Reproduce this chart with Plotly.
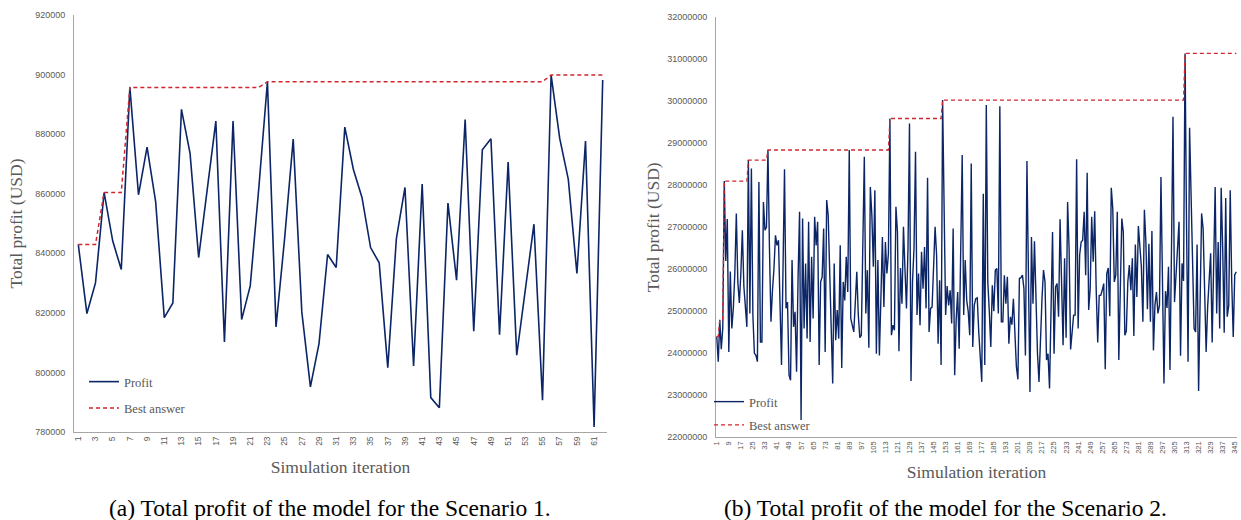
import plotly.graph_objects as go

# ---------------- Scenario 1 data ----------------
iter1 = list(range(1, 63))
profit1 = [
    842944, 819760, 830064, 860416, 844176, 834544, 895696, 859632, 875648, 857280,
    818416, 823344, 888304, 873520, 838576, 861000, 884384, 810240, 884384, 817744,
    829056, 862000, 897600, 815280, 845000, 878336, 820320, 795120, 809680, 839584,
    835216, 882368, 868144, 858736, 841936, 836784, 801616, 844960, 862096, 802176,
    863216, 791536, 788176, 856832, 830960, 884944, 813824, 874752, 878448, 812704,
    870608, 805760, 828000, 849776, 790640, 899840, 878560, 864784, 833200, 877664,
    781680, 898160,
]
best1 = [842944] * 3 + [860416] * 3 + [895696] * 16 + [897600] * 33 + [899840] * 7
xticks1 = list(range(1, 62, 2))

# ---------------- Scenario 2 data (millions USD) ----------------
profit2_m = [
    24.40, 23.80, 24.80, 24.10, 24.60, 28.10, 26.20, 27.20, 24.03, 25.95,
    24.59, 25.07, 25.90, 27.33, 25.70, 25.20, 25.90, 26.93, 25.60, 25.14,
    24.63, 28.60, 24.95, 28.40, 24.90, 24.00, 23.95, 23.80, 28.08, 24.27,
    24.27, 27.60, 26.93, 27.00, 28.84, 26.50, 24.75, 25.50, 26.02, 26.81,
    26.57, 26.69, 25.20, 23.72, 26.00, 28.38, 25.07, 25.22, 23.48, 23.36,
    26.22, 24.63, 24.99, 23.56, 25.80, 27.37, 22.41, 27.21, 24.59, 26.14,
    24.35, 27.13, 24.27, 26.30, 24.83, 27.25, 26.57, 27.13, 23.72, 25.70,
    25.82, 26.97, 24.03, 27.65, 27.29, 25.90, 24.50, 23.28, 26.14, 24.31,
    25.03, 24.35, 26.57, 23.65, 25.70, 25.26, 26.30, 25.46, 28.84, 24.83,
    24.67, 24.51, 25.20, 25.94, 24.91, 24.37, 24.43, 26.50, 28.68, 24.95,
    25.98, 24.13, 27.96, 27.29, 26.06, 27.88, 23.99, 26.22, 23.95, 25.30,
    26.77, 25.10, 26.65, 25.90, 26.38, 29.59, 24.43, 24.67, 24.55, 27.49,
    26.89, 24.05, 26.03, 25.18, 27.01, 26.00, 25.07, 26.50, 29.47, 23.34,
    25.70, 26.50, 28.80, 24.91, 25.90, 24.67, 26.42, 25.54, 26.53, 25.07,
    28.18, 24.51, 25.07, 25.10, 26.00, 27.01, 26.34, 24.23, 25.74, 23.72,
    30.03, 27.60, 24.91, 25.60, 25.14, 25.50, 24.71, 26.97, 23.48, 24.80,
    25.46, 24.11, 26.50, 28.72, 24.91, 26.22, 25.26, 25.00, 24.43, 28.52,
    24.15, 25.14, 25.30, 25.32, 24.50, 23.90, 23.32, 27.80, 23.72, 29.91,
    25.70, 25.00, 24.15, 25.62, 25.00, 25.98, 26.02, 24.95, 29.88, 24.75,
    24.75, 25.86, 25.18, 25.82, 24.23, 24.87, 24.68, 25.30, 24.40, 23.68,
    23.38, 25.78, 25.80, 25.86, 25.54, 23.95, 28.58, 25.80, 23.08, 26.77,
    25.18, 26.67, 25.00, 24.00, 23.32, 24.63, 25.30, 25.98, 25.70, 23.84,
    23.99, 23.16, 25.00, 26.89, 23.99, 25.58, 25.66, 24.87, 27.19, 25.70,
    24.19, 26.26, 24.37, 27.60, 26.49, 24.09, 24.50, 24.91, 24.91, 28.62,
    24.59, 26.34, 26.65, 26.69, 27.37, 25.86, 28.30, 25.03, 25.54, 27.25,
    26.18, 27.38, 25.50, 24.26, 25.38, 25.38, 25.50, 25.66, 23.62, 25.90,
    26.03, 24.88, 27.94, 27.45, 25.70, 25.86, 27.37, 23.84, 25.50, 27.21,
    26.89, 24.43, 24.53, 25.70, 26.10, 25.50, 26.26, 24.41, 26.59, 25.34,
    27.03, 26.50, 26.06, 24.75, 27.42, 26.65, 25.05, 26.61, 24.75, 26.91,
    24.07, 25.14, 25.46, 24.95, 25.14, 28.20, 25.50, 23.28, 25.48, 25.08,
    26.06, 23.60, 26.50, 29.63, 25.22, 25.78, 26.40, 27.13, 23.94, 26.14,
    25.72, 31.14, 27.00, 23.80, 29.37, 27.50, 25.80, 24.59, 24.51, 26.59,
    23.10, 25.30, 27.33, 26.97, 25.50, 24.03, 25.10, 25.80, 26.38, 24.26,
    26.00, 27.96, 24.95, 26.65, 24.59, 27.94, 26.49, 24.49, 27.70, 24.87,
    25.13, 27.88, 25.70, 24.39, 25.87, 25.94,
]
best2_m = ([24.40] * 2 + [24.80] * 3 + [28.10] * 16 + [28.60] * 13 + [28.84] * 81
           + [29.59] * 35 + [30.03] * 161 + [31.14] * 35)
profit2 = [v * 1e6 for v in profit2_m]
best2 = [v * 1e6 for v in best2_m]
iter2 = list(range(1, len(profit2) + 1))
xticks2 = list(range(1, 346, 8))

# ---------------- styling ----------------
W, H = 1241, 520
NAVY = "#0B2566"
RED = "#D0262E"
GREY = "#595959"
AXIS = "#A6A6A6"
SANS = "Liberation Sans, Arial, sans-serif"
SERIF = "Liberation Serif, Times New Roman, serif"

fig = go.Figure()
fig.add_trace(go.Scatter(x=iter1, y=profit1, mode="lines", name="Profit",
                         line=dict(color=NAVY, width=1.6), xaxis="x", yaxis="y",
                         legend="legend", legendgroup="a1"))
fig.add_trace(go.Scatter(x=iter1, y=best1, mode="lines", name="Best answer",
                         line=dict(color=RED, width=1.5, dash="4px,3px"), xaxis="x", yaxis="y",
                         legend="legend", legendgroup="a2"))
fig.add_trace(go.Scatter(x=iter2, y=profit2, mode="lines", name="Profit",
                         line=dict(color=NAVY, width=1.4), xaxis="x2", yaxis="y2",
                         legend="legend2", legendgroup="b1"))
fig.add_trace(go.Scatter(x=iter2, y=best2, mode="lines", name="Best answer",
                         line=dict(color=RED, width=1.3, dash="4px,3px"), xaxis="x2", yaxis="y2",
                         legend="legend2", legendgroup="b2"))

def px_x(p):
    return p / W

def px_y(p):
    return 1 - p / H

common_x = dict(showgrid=False, zeroline=False, showline=True, linecolor=AXIS, linewidth=1,
                ticks="", tickangle=-90, ticklabeloverflow="allow",
                tickfont=dict(family=SANS, color=GREY))
common_y = dict(showgrid=False, zeroline=False, showline=True, linecolor=AXIS, linewidth=1,
                ticks="", tickformat="d", tickfont=dict(family=SANS, size=9, color=GREY))

fig.update_layout(
    width=W, height=H,
    margin=dict(l=0, r=0, t=0, b=0, autoexpand=False),
    paper_bgcolor="white", plot_bgcolor="white",
    xaxis=dict(common_x, domain=[px_x(74), px_x(607)], range=[0.5, 62.5], anchor="y",
               tickvals=xticks1, ticktext=[str(v) for v in xticks1],
               tickfont=dict(family=SANS, size=8.5, color=GREY),
               title=dict(text="Simulation iteration", standoff=15,
                          font=dict(family=SERIF, size=17.5, color=GREY))),
    yaxis=dict(common_y, domain=[px_y(432), px_y(15)], range=[780000, 920000], dtick=20000,
               anchor="x", ticklabelstandoff=6,
               title=dict(text="Total profit (USD)", standoff=8,
                          font=dict(family=SERIF, size=17.5, color=GREY))),
    xaxis2=dict(common_x, domain=[px_x(716), px_x(1237)], range=[0.5, len(profit2) + 0.5],
                anchor="y2", tickvals=xticks2, ticktext=[str(v) for v in xticks2],
                tickfont=dict(family=SANS, size=7.5, color=GREY),
                title=dict(text="Simulation iteration", standoff=12,
                           font=dict(family=SERIF, size=17.5, color=GREY))),
    yaxis2=dict(common_y, domain=[px_y(437.3), px_y(17.3)], range=[22e6, 32e6], dtick=1e6,
                anchor="x2", ticklabelstandoff=6,
                title=dict(text="Total profit (USD)", standoff=3,
                           font=dict(family=SERIF, size=17.5, color=GREY))),
    legend=dict(x=px_x(84), y=px_y(367), xanchor="left", yanchor="top",
                bgcolor="rgba(0,0,0,0)", font=dict(family=SERIF, size=12.5, color=GREY),
                itemwidth=30, tracegroupgap=7, traceorder="grouped"),
    legend2=dict(x=px_x(709), y=px_y(387), xanchor="left", yanchor="top",
                 bgcolor="rgba(0,0,0,0)", font=dict(family=SERIF, size=12.5, color=GREY),
                 itemwidth=30, tracegroupgap=4, traceorder="grouped"),
    annotations=[
        dict(text="(a) Total profit of the model for the Scenario 1.", x=px_x(330), y=px_y(508),
             xref="paper", yref="paper", showarrow=False, xanchor="center", yanchor="middle",
             font=dict(family=SERIF, size=23.5, color="black")),
        dict(text="(b) Total profit of the model for the Scenario 2.", x=px_x(945), y=px_y(508),
             xref="paper", yref="paper", showarrow=False, xanchor="center", yanchor="middle",
             font=dict(family=SERIF, size=23.5, color="black")),
    ],
)

fig.write_html("out.html", config={"displayModeBar": False},
               post_script="document.body.style.margin='0';document.body.style.overflow='hidden';")
